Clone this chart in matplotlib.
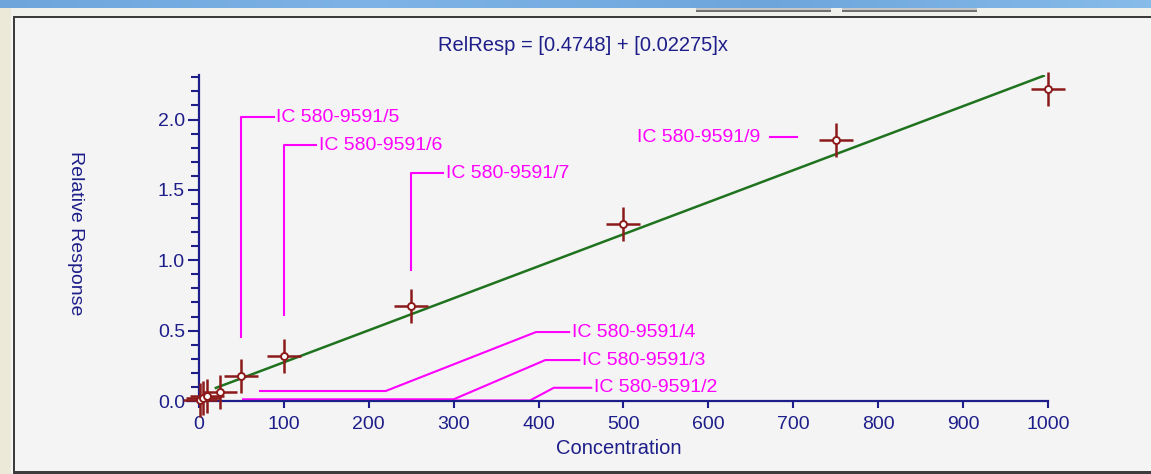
import matplotlib
matplotlib.use("Agg")
import matplotlib.pyplot as plt
from matplotlib.patches import Rectangle
from matplotlib.lines import Line2D
from matplotlib.ticker import MultipleLocator, FormatStrFormatter
import numpy as np

plt.rcParams['font.family'] = ['Liberation Sans', 'DejaVu Sans']

# --- calibration data ---
conc = [1, 5, 10, 25, 50, 100, 250, 500, 750, 1000]
rel_resp = [0.004, 0.018, 0.035, 0.066, 0.177, 0.319, 0.674, 1.257, 1.853, 2.215]
sample_ids = ["IC 580-9591/%d" % (i + 1) for i in range(len(conc))]

# linear fit as reported; response axis is plotted per 10 units
fit_intercept = 0.4748
fit_slope = 0.02275
fit_scale = 10.0
fit_span = [20, 995]

# colours
NAVY = "#1e1e8a"
MAGENTA = "#ff00ff"
DARKRED = "#8c1a1a"
GREEN = "#1f731f"
PANEL = "#f4f4f4"

# leader layout for labelled samples: index -> (leader path, text anchor, ha)
leaders = {
    1: ([(52, 0.004), (390, 0.004), (418, 0.094), (462, 0.094)], (465, 0.094), 'left'),
    2: ([(52, 0.012), (300, 0.012), (408, 0.291), (448, 0.291)], (451, 0.291), 'left'),
    3: ([(72, 0.071), (220, 0.071), (397, 0.49), (436, 0.49)], (439, 0.49), 'left'),
    4: ([(49.5, 0.454), (49.5, 2.018), (88, 2.018)], (91, 2.018), 'left'),
    5: ([(100, 0.61), (100, 1.818), (138, 1.818)], (141, 1.818), 'left'),
    6: ([(249.5, 0.93), (249.5, 1.617), (288, 1.617)], (291, 1.617), 'left'),
    8: ([(673, 1.874), (704, 1.874)], (661, 1.874), 'right'),
}

fig = plt.figure(figsize=(11.51, 4.74), dpi=100, facecolor=PANEL)

# window chrome around the chart panel
W, H = 1151, 474
def px_rect(x, y, w, h, color, z=0):
    fig.patches.append(Rectangle((x / W, 1 - (y + h) / H), w / W, h / H,
                                 transform=fig.transFigure, color=color,
                                 zorder=z, lw=0))

px_rect(0, 0, W, 17, "#f0f0ec")
px_rect(0, 0, 11, H, "#ece9d8")
grad = np.linspace(0, 1, 256).reshape(1, -1)
bar_ax = fig.add_axes([0, 1 - 8 / H, 1, 8 / H])
bar_ax.set_zorder(5)
bar_ax.imshow(np.vstack([grad, grad]), aspect='auto',
              cmap=matplotlib.colors.LinearSegmentedColormap.from_list(
                  "bar", ["#6ea6dc", "#7db3e6", "#6ea6dc", "#86bbea"]))
bar_ax.axis('off')
px_rect(696, 8, 135, 3, "#c8c8c8")
px_rect(696, 10, 135, 2, "#707070")
px_rect(842, 8, 135, 3, "#c8c8c8")
px_rect(842, 10, 135, 2, "#707070")
px_rect(13, 16, W - 13, 2, "#3c3c3c", 2)
px_rect(13, 16, 2, H - 16, "#3c3c3c", 2)
px_rect(13, 471, W - 13, 3, "#3c3c3c", 2)

ax = fig.add_axes([187 / W, 73 / H, 861 / W, 326.5 / H])
ax.set_facecolor('none')
ax.set_xlim(-14, 1000)
ax.set_ylim(0, 2.32)

for s in ('top', 'right'):
    ax.spines[s].set_visible(False)
ax.spines['left'].set_position(('data', 0))
for s in ('left', 'bottom'):
    ax.spines[s].set_color(NAVY)
    ax.spines[s].set_linewidth(1.6)

ax.xaxis.set_major_locator(MultipleLocator(100))
ax.yaxis.set_major_locator(MultipleLocator(0.5))
ax.yaxis.set_minor_locator(MultipleLocator(0.1))
ax.yaxis.set_major_formatter(FormatStrFormatter('%.1f'))
ax.tick_params(axis='x', colors=NAVY, labelcolor=NAVY, labelsize=14,
               direction='out', length=5, width=1.5, pad=6)
ax.tick_params(axis='y', which='major', colors=NAVY, labelcolor=NAVY,
               labelsize=14, direction='out', length=8, width=1.5, pad=2)
ax.tick_params(axis='y', which='minor', colors=NAVY, direction='out',
               length=6, width=1.5)

# fitted line
xs = np.array(fit_span, dtype=float)
ax.plot(xs, (fit_intercept + fit_slope * xs) / fit_scale, color=GREEN, lw=1.8,
        zorder=2)

# calibration points: crosshair with small open marker
ax.plot(conc, rel_resp, ls='none', marker='+', ms=25, mew=1.8,
        color=DARKRED, zorder=3, clip_on=False)
ax.plot(conc, rel_resp, ls='none', marker='o', ms=5, mew=1.4,
        mec=DARKRED, mfc='white', zorder=4, clip_on=False)

# sample labels with leader lines
for idx, (path, (tx, ty), ha) in leaders.items():
    px, py = zip(*path)
    ax.add_line(Line2D(px, py, color=MAGENTA, lw=1.5, zorder=1, clip_on=False))
    ax.text(tx, ty, sample_ids[idx], color=MAGENTA, fontsize=14,
            ha=ha, va='center', clip_on=False)

fig.text(583 / W, 1 - 45 / H, "RelResp = [%.4f] + [%.5f]x" % (fit_intercept, fit_slope),
         color=NAVY, fontsize=14.5, ha='center', va='center')
fig.text(619 / W, 1 - 449 / H, "Concentration", color=NAVY, fontsize=14.5,
         ha='center', va='center')
fig.text(75 / W, 1 - 233 / H, "Relative Response", color=NAVY, fontsize=14,
         ha='center', va='center', rotation=270)

fig.savefig("out.png", dpi=100, facecolor=fig.get_facecolor())
